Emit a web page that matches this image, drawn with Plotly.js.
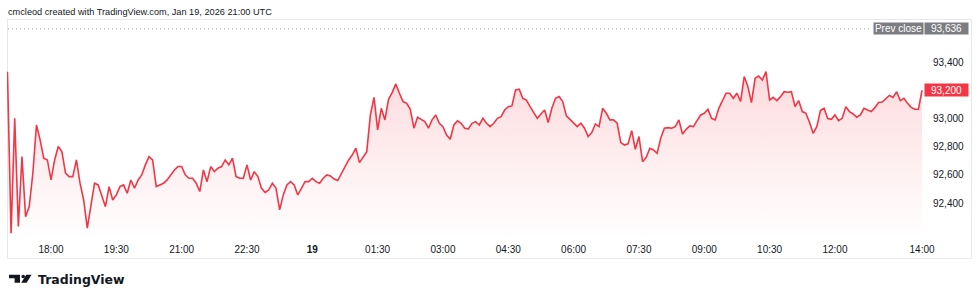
<!DOCTYPE html>
<html><head><meta charset="utf-8">
<script src="https://cdn.plot.ly/plotly-3.0.1.min.js"></script>
<style>html,body{margin:0;padding:0;background:#fff;}#chart{width:980px;height:302px;}</style>
</head><body><div id="chart"></div>
<script>
// ---- data ----
const startTime = [2026, 0, 18, 17, 0]; // Jan 18 2026 17:00, bar spacing below
const stepMinutes = 5;
const prices = [
93332,92186,93001,92234,92730,92304,92375,92612,92954,92848,
92718,92706,92564,92706,92801,92765,92612,92588,92588,92706,
92541,92422,92222,92375,92541,92529,92446,92375,92517,92422,
92458,92517,92529,92470,92564,92505,92564,92600,92671,92730,
92706,92517,92529,92541,92564,92600,92635,92659,92659,92600,
92576,92576,92541,92482,92635,92552,92659,92623,92647,92659,
92706,92671,92718,92588,92576,92576,92671,92564,92623,92588,
92505,92475,92493,92541,92505,92352,92458,92529,92552,92529,
92458,92505,92552,92552,92576,92552,92541,92576,92600,92593,
92571,92560,92607,92654,92706,92741,92789,92687,92730,92765,
93025,93150,92919,93072,92990,93136,93183,93245,93179,93120,
93108,93065,92931,93009,92994,92978,92931,92990,93025,92966,
92942,92883,92853,92954,92983,92966,92931,92926,92966,92978,
92954,93001,92966,92942,92966,93001,93013,93060,93084,93089,
93202,93207,93143,93131,93084,93042,93001,93032,93060,92971,
93072,93143,93155,93120,93018,92994,92971,92942,92966,92931,
92872,92900,92961,92942,93072,93037,92990,92990,92966,92829,
92812,92820,92914,92782,92872,92694,92725,92789,92777,92753,
92860,92931,92935,92931,92942,92990,92890,92923,92947,92942,
92985,93025,93037,93065,93001,92990,93072,93120,93179,93179,
93143,93179,93120,93297,93226,93112,93285,93301,93273,93332,
93131,93150,93127,93155,93190,93186,93190,93084,93127,93049,
93037,92971,92895,92942,93056,93072,92999,92994,93025,92985,
93001,93084,93049,93032,93009,93025,93072,93060,93049,93077,
93113,93117,93143,93164,93150,93190,93127,93143,93108,93079,
93065,93065,93200
];
const prevClose = 93636;
const lastPrice = 93200;
const priceTicks = [92400, 92600, 92800, 93000, 93400];
const timeTicks = ['2026-01-18 18:00','2026-01-18 19:30','2026-01-18 21:00','2026-01-18 22:30',
  '2026-01-19 00:00','2026-01-19 01:30','2026-01-19 03:00','2026-01-19 04:30','2026-01-19 06:00',
  '2026-01-19 07:30','2026-01-19 09:00','2026-01-19 10:30','2026-01-19 12:00','2026-01-19 14:00'];
const timeLabels = ['18:00','19:30','21:00','22:30','<b>19</b>','01:30','03:00','04:30','06:00',
  '07:30','09:00','10:30','12:00','14:00'];
const headerText = 'cmcleod created with TradingView.com, Jan 19, 2026 21:00 UTC';

// ---- build ----
const t0 = Date.UTC(...startTime);
const times = prices.map((_, i) => new Date(t0 + i * stepMinutes * 60000).toISOString().slice(0, 16).replace('T', ' '));
const fmt = v => v.toLocaleString('en-US');

// layout geometry (pixels)
const W = 980, H = 302, L = 7, R = 52, T = 19, B = 64;
const PW = W - L - R, PH = H - T - B;
const px = x => (x - L) / PW;
const py = y => (H - B - y) / PH;
const P = (x, y) => px(x).toFixed(5) + ',' + py(y).toFixed(5);

const FONT = '"Liberation Sans", Arial, sans-serif';
const TXT = '#131722';
const RED = '#f23645';
const GREY = '#7b7d82';

const trace = {
  x: times, y: prices, type: 'scatter', mode: 'lines',
  line: {color: RED, width: 1.6},
  fill: 'tozeroy',
  fillgradient: {type: 'vertical', start: 92150, stop: Math.max(...prices),
    colorscale: [[0, 'rgba(242,54,69,0.0)'], [1, 'rgba(242,54,69,0.18)']]},
  hoverinfo: 'skip'
};

const logoPaths = [
  'M' + P(9, 274.7) + 'L' + P(20, 274.7) + 'L' + P(20, 282.8) + 'L' + P(14.6, 282.8) + 'L' + P(14.6, 278.2) + 'L' + P(9, 278.2) + 'Z',
  'M' + P(26.2, 274.7) + 'L' + P(31.6, 274.7) + 'L' + P(26.6, 282.8) + 'L' + P(21.2, 282.8) + 'Z'
];

const layout = {
  width: W, height: H,
  margin: {l: L, r: R, t: T, b: B, pad: 0},
  paper_bgcolor: '#ffffff', plot_bgcolor: '#ffffff',
  showlegend: false,
  font: {family: FONT, color: TXT, size: 10},
  xaxis: {
    type: 'date', range: ['2026-01-18 16:59:23', '2026-01-19 14:08:12'],
    tickmode: 'array', tickvals: timeTicks, ticktext: timeLabels,
    showgrid: false, zeroline: false, showline: false, ticks: '',
    tickfont: {family: FONT, size: 10, color: TXT}, ticklabelstandoff: 4, fixedrange: true
  },
  yaxis: {
    side: 'right', range: [92152.6, 93705.3],
    tickmode: 'array', tickvals: priceTicks, ticktext: priceTicks.map(fmt),
    showgrid: false, zeroline: false, showline: false, ticks: '',
    tickfont: {family: FONT, size: 10, color: TXT}, ticklabelstandoff: 4, fixedrange: true
  },
  shapes: [
    {type: 'rect', xref: 'paper', yref: 'paper', x0: px(7.5), x1: px(971.5), y0: py(258.5), y1: py(19.5),
      line: {color: '#e8e8ea', width: 1}, fillcolor: 'rgba(0,0,0,0)', layer: 'below'},
    {type: 'line', xref: 'paper', yref: 'y', x0: px(8), x1: px(870), y0: prevClose, y1: prevClose,
      line: {color: '#a6a8ad', width: 1, dash: '1px,3px'}},
    ...logoPaths.map(p => ({type: 'path', xref: 'paper', yref: 'paper', path: p, fillcolor: TXT, line: {width: 0}})),
    {type: 'circle', xref: 'paper', yref: 'paper', x0: px(21.4), x1: px(25.0), y0: py(278.3), y1: py(274.7),
      fillcolor: TXT, line: {width: 0}}
  ],
  annotations: [
    {xref: 'paper', yref: 'paper', x: px(6), y: py(12), xanchor: 'left', yanchor: 'middle', showarrow: false,
      text: headerText, font: {family: FONT, size: 9.2, color: TXT}},
    {xref: 'paper', yref: 'y', x: px(898), y: prevClose, xanchor: 'center', yanchor: 'middle', showarrow: false,
      text: 'Prev close', bgcolor: GREY, width: 49, height: 11, borderpad: 0, font: {family: FONT, size: 10, color: '#ffffff'}},
    {xref: 'paper', yref: 'y', x: px(946.3), y: prevClose, xanchor: 'center', yanchor: 'middle', showarrow: false,
      text: fmt(prevClose), bgcolor: GREY, width: 43, height: 11, borderpad: 0, font: {family: FONT, size: 10, color: '#ffffff'}},
    {xref: 'paper', yref: 'y', x: px(946.5), y: lastPrice, xanchor: 'center', yanchor: 'middle', showarrow: false,
      text: fmt(lastPrice), bgcolor: RED, width: 43, height: 12, borderpad: 0, font: {family: FONT, size: 10, color: '#ffffff'}},
    {xref: 'paper', yref: 'paper', x: px(36), y: py(279), xanchor: 'left', yanchor: 'middle', showarrow: false,
      text: '<b>TradingView</b>', font: {family: '"DejaVu Sans", sans-serif', size: 12.5, color: TXT}}
  ]
};

Plotly.newPlot('chart', [trace], layout, {staticPlot: true, displayModeBar: false});
</script></body></html>
